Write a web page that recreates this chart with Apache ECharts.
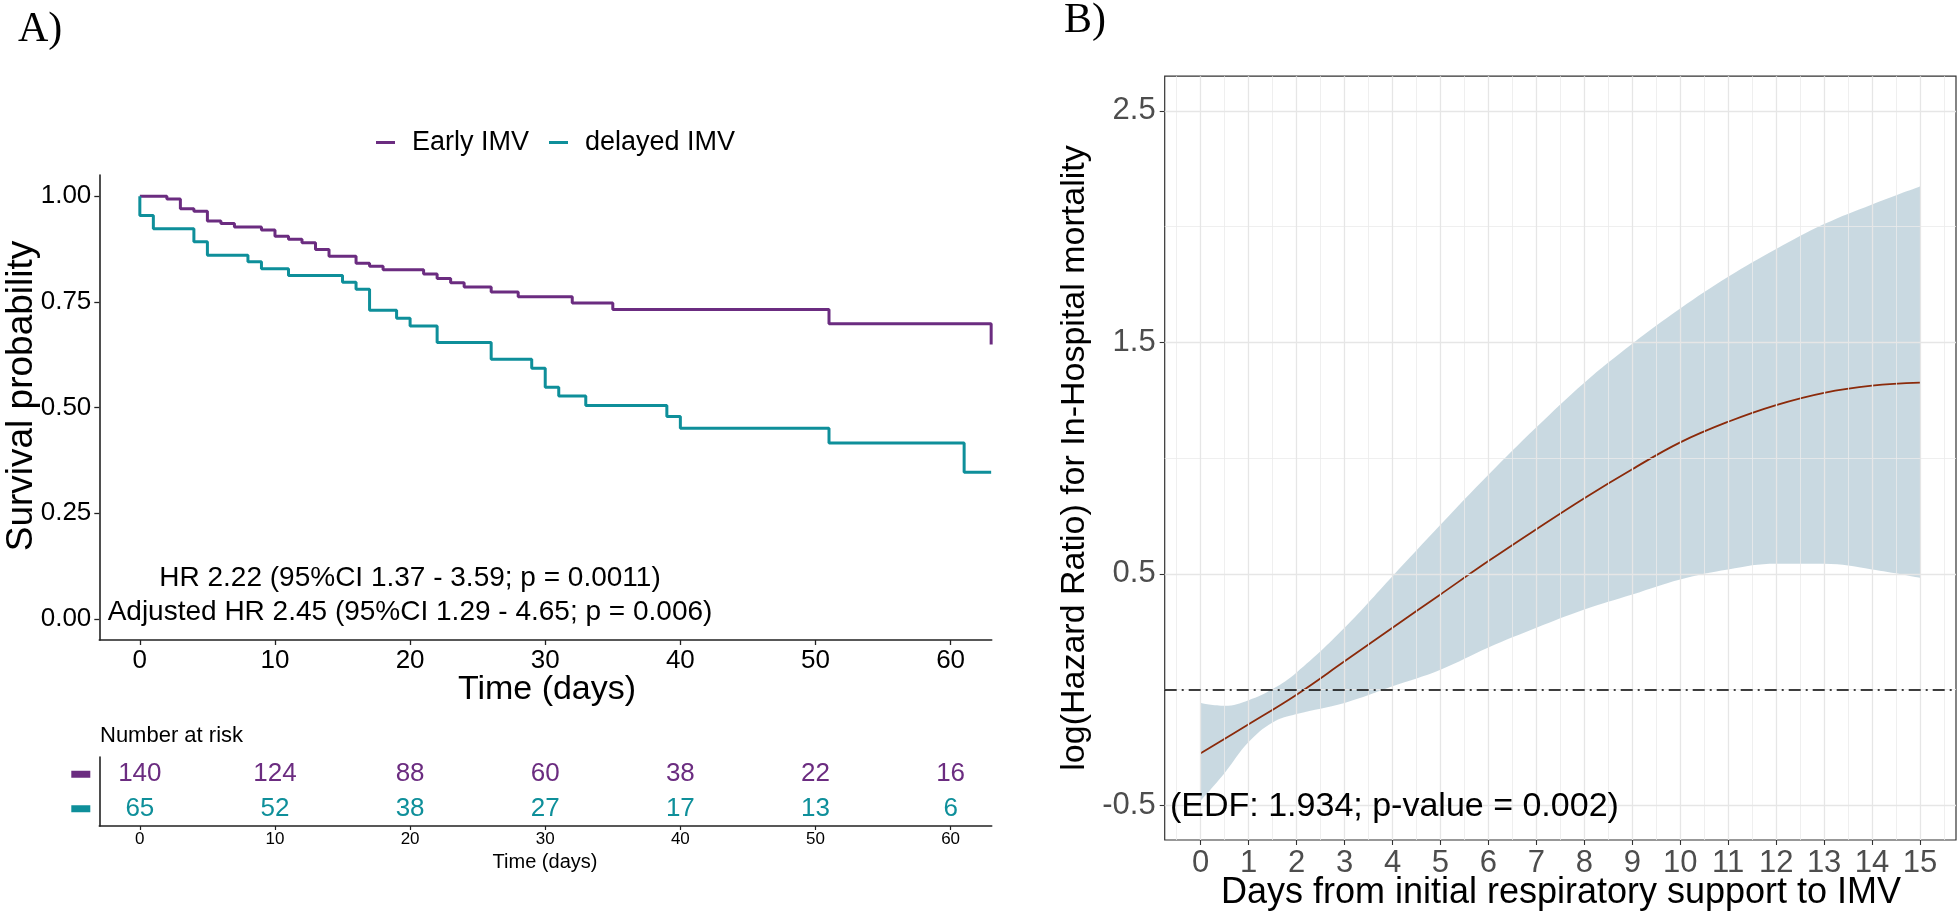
<!DOCTYPE html>
<html>
<head>
<meta charset="utf-8">
<script src="https://cdn.jsdelivr.net/npm/echarts@6/dist/echarts.min.js"></script>
<style>
html,body{margin:0;padding:0;background:#fff;}
#chart{width:1958px;height:914px;}
</style>
</head>
<body>
<div id="chart"></div>
<script>
// ---------- Panel A : Kaplan-Meier ----------
const earlyTimes = [0, 2, 3, 4, 5, 6, 7, 9, 10, 11, 12, 13, 14, 16, 17, 18, 21, 22, 23, 24, 26, 28, 32, 35, 51, 63];
const earlySurv  = [1.000, 0.993, 0.970, 0.964, 0.941, 0.935, 0.927, 0.920, 0.905, 0.898, 0.890, 0.874, 0.858, 0.841, 0.834, 0.826, 0.816, 0.805, 0.795, 0.785, 0.773, 0.762, 0.747, 0.732, 0.698, 0.649];
const delayedTimes = [0, 0, 1, 4, 5, 8, 9, 11, 15, 16, 17, 19, 20, 22, 26, 29, 30, 31, 33, 39, 40, 51, 61, 63];
const delayedSurv  = [1.000, 0.954, 0.923, 0.892, 0.860, 0.845, 0.828, 0.812, 0.796, 0.780, 0.730, 0.711, 0.693, 0.654, 0.614, 0.593, 0.548, 0.527, 0.505, 0.479, 0.451, 0.416, 0.347, 0.347];
const kmXTicks = [0, 10, 20, 30, 40, 50, 60];
const kmYTicks = [0, 0.25, 0.5, 0.75, 1.0];
const groupNames = ['Early IMV', 'delayed IMV'];

// ---------- Risk table ----------
const riskTimes   = [0, 10, 20, 30, 40, 50, 60];
const earlyRisk   = [140, 124, 88, 60, 38, 22, 16];
const delayedRisk = [65, 52, 38, 27, 17, 13, 6];

// ---------- Panel B : spline of log(HR) ----------
const hrDays = [0, 1, 2, 3, 4, 5, 6, 7, 8, 9, 10, 11, 12, 13, 14, 15];
const hrFit  = [-0.275, -0.150, -0.022, 0.122, 0.267, 0.411, 0.555, 0.693, 0.827, 0.952, 1.068, 1.157, 1.229, 1.282, 1.313, 1.326];
const bandDays  = [0, 0.5, 1, 1.5, 2, 3, 4, 5, 6, 7, 8, 9, 10, 11, 12, 13, 14, 15];
const bandUpper = [-0.058, -0.070, -0.046, 0.002, 0.074, 0.267, 0.490, 0.712, 0.928, 1.133, 1.326, 1.494, 1.646, 1.783, 1.903, 2.011, 2.096, 2.173];
const bandLower = [-0.480, -0.360, -0.227, -0.142, -0.106, -0.058, 0.014, 0.086, 0.182, 0.267, 0.346, 0.411, 0.476, 0.519, 0.543, 0.543, 0.519, 0.483];
const bXTicks = [0, 1, 2, 3, 4, 5, 6, 7, 8, 9, 10, 11, 12, 13, 14, 15];
const bXMinor = [-0.5, 0.5, 1.5, 2.5, 3.5, 4.5, 5.5, 6.5, 7.5, 8.5, 9.5, 10.5, 11.5, 12.5, 13.5, 14.5, 15.5];
const bYTicks = [-0.5, 0.5, 1.5, 2.5];
const bYMinor = [0, 1, 2];

const PURPLE = '#6b2c80';
const TEAL = '#0e8f9a';
const SANS = 'Liberation Sans, Arial, sans-serif';
const SERIF = 'Liberation Serif, Times New Roman, serif';

const chart = echarts.init(document.getElementById('chart'), null, {renderer: 'canvas'});

const gridLineData = [];
bXMinor.forEach(v => gridLineData.push({xAxis: v, lineStyle: {color: '#ebebeb', width: 0.8, type: 'solid'}}));
bYMinor.forEach(v => gridLineData.push({yAxis: v, lineStyle: {color: '#ebebeb', width: 0.8, type: 'solid'}}));
bXTicks.forEach(v => gridLineData.push({xAxis: v, lineStyle: {color: '#e6e6e6', width: 1.3, type: 'solid'}}));
bYTicks.forEach(v => gridLineData.push({yAxis: v, lineStyle: {color: '#e6e6e6', width: 1.3, type: 'solid'}}));

function txt(text, x, y, size, opts) {
  opts = opts || {};
  return {
    type: 'text', x: x, y: y, rotation: opts.rotation || 0, silent: true, z: 100,
    style: {
      text: text, fontSize: size, fontFamily: opts.family || SANS, fill: opts.color || '#000',
      align: opts.align || 'center', verticalAlign: opts.valign || 'middle'
    }
  };
}

function riskLabel(color) {
  return {
    show: true, position: 'inside', formatter: p => String(p.value[2]),
    fontSize: 26, fontFamily: SANS, color: color, opacity: 1,
    textBorderWidth: 0, textBorderColor: 'transparent', textShadowBlur: 0
  };
}

const option = {
  animation: false,
  backgroundColor: '#fff',
  legend: {
    data: groupNames,
    left: 371, top: 124,
    icon: 'rect', itemWidth: 19, itemHeight: 3, itemGap: 20,
    textStyle: {fontSize: 27, fontFamily: SANS, color: '#000', padding: [0, 0, 0, 12]}
  },
  grid: [
    {left: 99.3, top: 175, width: 892.4, height: 465},
    {left: 99.3, top: 757, width: 892.4, height: 69},
    {left: 1164.7, top: 76.2, width: 791.3, height: 763.8, show: true, borderColor: '#333', borderWidth: 1.2, backgroundColor: '#fff'}
  ],
  xAxis: [
    {
      type: 'value', gridIndex: 0, min: -3, max: 63.04,
      axisLine: {show: true, onZero: false, lineStyle: {color: '#222', width: 1.6}},
      axisTick: {show: true, customValues: kmXTicks, length: 5, lineStyle: {color: '#222', width: 1.3}},
      axisLabel: {customValues: kmXTicks, fontSize: 26, fontFamily: SANS, color: '#000', margin: 8},
      splitLine: {show: false}
    },
    {
      type: 'value', gridIndex: 1, min: -3, max: 63.04,
      axisLine: {show: true, onZero: false, lineStyle: {color: '#222', width: 1.6}},
      axisTick: {show: true, customValues: riskTimes, length: 4, lineStyle: {color: '#222', width: 1.2}},
      axisLabel: {customValues: riskTimes, fontSize: 17, fontFamily: SANS, color: '#000', margin: 5},
      splitLine: {show: false}
    },
    {
      type: 'value', gridIndex: 2, min: -0.75, max: 15.75,
      axisLine: {show: false, onZero: false},
      axisTick: {show: true, customValues: bXTicks, length: 5, lineStyle: {color: '#333', width: 1.1}},
      axisLabel: {customValues: bXTicks, fontSize: 31, fontFamily: SANS, color: '#4d4d4d', margin: 8},
      splitLine: {show: false}
    }
  ],
  yAxis: [
    {
      type: 'value', gridIndex: 0, min: -0.05, max: 1.05,
      axisLine: {show: true, onZero: false, lineStyle: {color: '#222', width: 1.6}},
      axisTick: {show: true, customValues: kmYTicks, length: 5, lineStyle: {color: '#222', width: 1.3}},
      axisLabel: {customValues: kmYTicks, fontSize: 26, fontFamily: SANS, color: '#000', margin: 8,
        formatter: v => Number(v).toFixed(2)},
      splitLine: {show: false}
    },
    {
      type: 'category', gridIndex: 1, data: ['delayed IMV', 'Early IMV'],
      axisLine: {show: true, onZero: false, lineStyle: {color: '#222', width: 1.6}},
      axisTick: {show: false},
      axisLabel: {
        margin: 9,
        formatter: v => v === 'Early IMV' ? '{p|}' : '{t|}',
        rich: {
          p: {width: 19, height: 7, backgroundColor: PURPLE},
          t: {width: 19, height: 7, backgroundColor: TEAL}
        }
      },
      splitLine: {show: false}
    },
    {
      type: 'value', gridIndex: 2, min: -0.65, max: 2.65,
      axisLine: {show: false, onZero: false},
      axisTick: {show: true, customValues: bYTicks, length: 5, lineStyle: {color: '#333', width: 1.1}},
      axisLabel: {customValues: bYTicks, fontSize: 31, fontFamily: SANS, color: '#4d4d4d', margin: 9},
      splitLine: {show: false}
    }
  ],
  series: [
    {
      name: 'Early IMV', type: 'line', xAxisIndex: 0, yAxisIndex: 0, step: 'end',
      data: earlyTimes.map((t, i) => [t, earlySurv[i]]),
      symbol: 'none', lineStyle: {color: PURPLE, width: 3}, itemStyle: {color: PURPLE}, z: 3
    },
    {
      name: 'delayed IMV', type: 'line', xAxisIndex: 0, yAxisIndex: 0, step: 'end',
      data: delayedTimes.map((t, i) => [t, delayedSurv[i]]),
      symbol: 'none', lineStyle: {color: TEAL, width: 3}, itemStyle: {color: TEAL}, z: 3
    },
    {
      name: 'riskEarly', type: 'scatter', xAxisIndex: 1, yAxisIndex: 1,
      data: riskTimes.map((t, i) => [t, 'Early IMV', earlyRisk[i]]),
      symbolSize: 0, itemStyle: {color: PURPLE, opacity: 1},
      label: riskLabel(PURPLE)
    },
    {
      name: 'riskDelayed', type: 'scatter', xAxisIndex: 1, yAxisIndex: 1,
      data: riskTimes.map((t, i) => [t, 'delayed IMV', delayedRisk[i]]),
      symbolSize: 0, itemStyle: {color: TEAL, opacity: 1},
      label: riskLabel(TEAL)
    },
    {
      // value column first so that the y value is the stacked dimension
      name: 'lower', type: 'line', xAxisIndex: 2, yAxisIndex: 2, stack: 'ci', stackStrategy: 'all', smooth: 0.4,
      data: bandDays.map((d, i) => [bandLower[i], d]),
      encode: {x: 1, y: 0},
      symbol: 'none', lineStyle: {opacity: 0, width: 0}, z: 1,
      markLine: {silent: true, symbol: ['none', 'none'], label: {show: false}, data: gridLineData}
    },
    {
      name: 'ci', type: 'line', xAxisIndex: 2, yAxisIndex: 2, stack: 'ci', stackStrategy: 'all', smooth: 0.4,
      data: bandDays.map((d, i) => [bandUpper[i] - bandLower[i], d]),
      encode: {x: 1, y: 0},
      symbol: 'none', lineStyle: {opacity: 0, width: 0},
      areaStyle: {color: 'rgba(120,160,180,0.40)', opacity: 1}, z: 2
    },
    {
      name: 'fit', type: 'line', xAxisIndex: 2, yAxisIndex: 2, smooth: 0.4,
      data: hrDays.map((d, i) => [d, hrFit[i]]),
      symbol: 'none', lineStyle: {color: '#8b2a0a', width: 1.8}, z: 3,
      markLine: {
        silent: true, symbol: ['none', 'none'], label: {show: false},
        data: [{yAxis: 0, lineStyle: {color: '#000', width: 1.5, type: [12, 5, 2, 5]}}]
      }
    }
  ],
  graphic: [
    txt('A)', 18, 30, 42, {family: SERIF, align: 'left'}),
    txt('B)', 1064, 21, 42, {family: SERIF, align: 'left'}),
    txt('Survival probability', 22, 396, 37, {rotation: Math.PI / 2}),
    txt('Time (days)', 547, 690, 34),
    txt('HR 2.22 (95%CI 1.37 - 3.59; p = 0.0011)', 410, 578, 28),
    txt('Adjusted HR 2.45 (95%CI 1.29 - 4.65; p = 0.006)', 410, 612, 28),
    txt('Number at risk', 100, 736, 22, {align: 'left'}),
    txt('Time (days)', 545, 862, 20),
    txt('log(Hazard Ratio) for In-Hospital mortality', 1075, 458, 34, {rotation: Math.PI / 2}),
    txt('Days from initial respiratory support to IMV', 1561, 893, 36),
    txt('(EDF: 1.934; p-value = 0.002)', 1170, 807, 34, {align: 'left'})
  ]
};
chart.setOption(option);
</script>
</body>
</html>
